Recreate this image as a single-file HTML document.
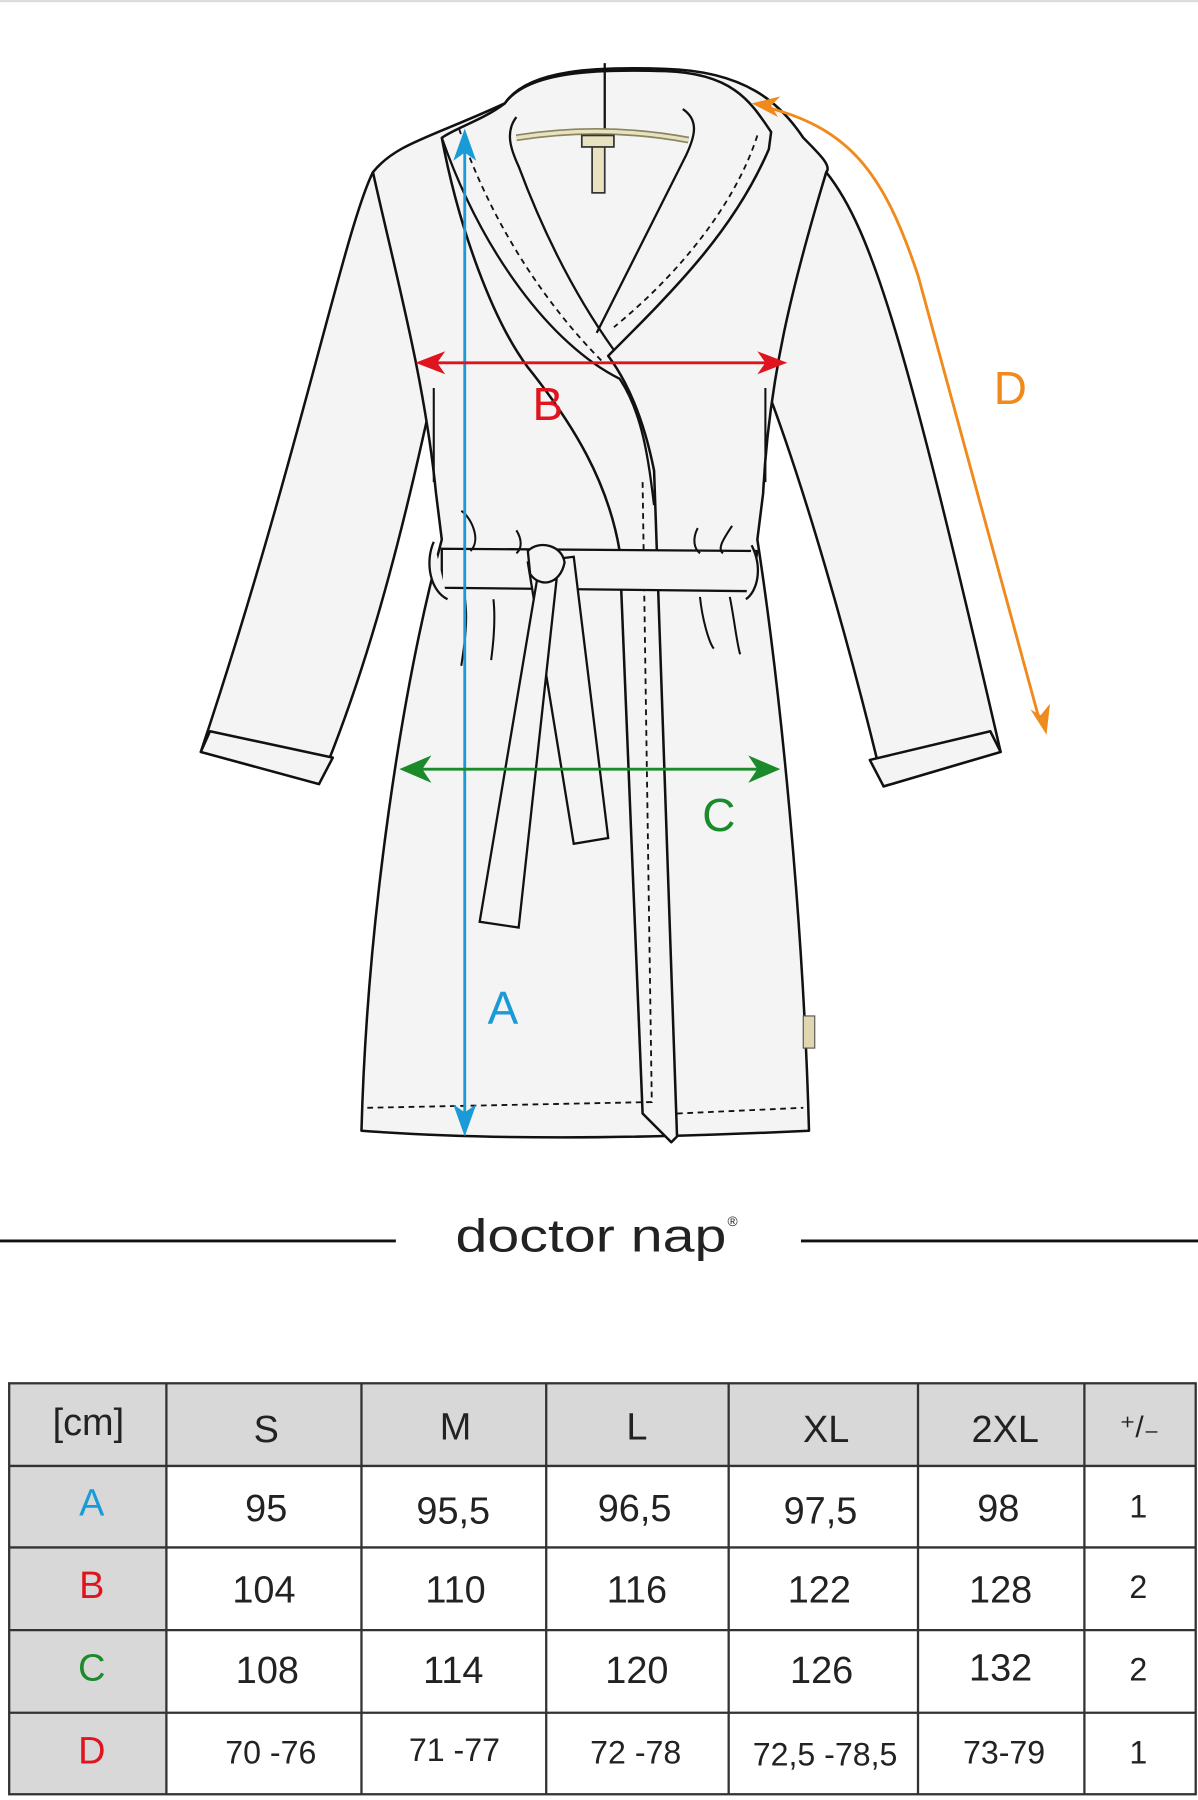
<!DOCTYPE html>
<html><head><meta charset="utf-8"><style>
html,body{margin:0;padding:0;background:#fff;}
svg{display:block}
text{font-family:"Liberation Sans",sans-serif;}
</style></head><body>
<svg width="1198" height="1800" viewBox="0 0 1044 1568" preserveAspectRatio="none" xmlns="http://www.w3.org/2000/svg">
<rect width="1044" height="1568" fill="#fff"/>
<line x1="0" y1="1" x2="1044" y2="1" stroke="#ddd" stroke-width="2"/>
<g fill="#f4f4f4" stroke="#111" stroke-width="2.2" stroke-linejoin="round">
<path d="M325,150 C300,200 260,400 175,655 L278,683 C330,560 360,420 380,330 Z"/>
<path d="M720,150 C760,200 790,300 872,655 L770,685 C740,560 700,420 665,330 Z"/>
<path d="M175,655 L183,637 L290,660 L278,683 Z"/>
<path d="M872,655 L863,637 L758,662 L770,685 Z"/>
<path d="M325,150 C345,125 375,120 440,90 C460,60 520,58 580,60 C650,62 680,90 700,120 C715,135 725,145 720,150 C690,250 670,330 665,430 L660,470 C680,600 700,800 705,985 C600,990 450,995 315,985 C320,800 350,600 385,470 L380,430 C370,330 345,240 325,150 Z"/>
<path d="M385,120 C400,110 420,105 440,90 C460,62 520,60 580,62 C640,64 655,90 672,115 L670,130 C640,200 590,250 530,310 C545,330 560,360 570,410 L590,990 L585,995 L560,970 L540,480 C530,420 500,370 460,320 C430,280 400,200 385,120 Z"/>
</g>
<g fill="none" stroke="#111" stroke-width="2">
<path d="M450,102 C440,115 445,130 452,145 C480,220 510,270 535,305"/>
<path d="M595,95 C610,105 605,120 598,135 C580,170 550,230 520,290"/>
<path d="M527,55 L527,120"/>
<path d="M385,120 C420,220 480,300 540,330 C560,360 565,400 570,440"/>
</g>
<g fill="none" stroke="#111" stroke-width="1.6" stroke-dasharray="5,4">
<path d="M400,112 C430,200 480,270 525,315"/>
<path d="M660,118 C640,180 590,240 535,285"/>
<path d="M560,420 L568,960 L320,965"/>
<path d="M590,970 L700,965"/>
</g>
<path d="M450,120 Q525,108 600,122" stroke="#8a8660" stroke-width="6" fill="none"/>
<path d="M450,120 Q525,108 600,122" stroke="#e8e2c0" stroke-width="3" fill="none"/>
<rect x="516" y="125" width="11" height="43" fill="#e8e2c0" stroke="#333" stroke-width="1.5"/>
<rect x="507" y="118" width="28" height="10" fill="#e8e2c0" stroke="#333" stroke-width="1.5"/>
<g fill="#f4f4f4" stroke="#111" stroke-width="2">
<path d="M385,478 L660,480 L655,515 L385,512 Z"/>
<path d="M460,490 L500,485 L530,730 L500,735 Z"/>
<path d="M468,505 L485,505 L452,808 L418,803 Z"/>
<path d="M460,480 C470,470 490,475 492,490 C488,510 470,512 462,500 Z"/>
<path d="M378,472 C370,490 375,515 390,522"/>
<path d="M655,475 C665,495 660,515 650,522"/>
</g>
<g fill="none" stroke="#111" stroke-width="1.8">
<path d="M402,445 C410,450 420,470 410,480"/><path d="M450,462 C455,470 455,478 450,482"/>
<path d="M608,460 C603,470 605,478 610,482"/><path d="M638,458 C630,470 625,478 630,482"/>
<path d="M405,520 C408,540 405,560 402,580"/><path d="M430,522 C432,540 430,560 428,575"/>
<path d="M610,520 C612,540 618,560 622,565"/><path d="M636,520 C640,540 642,560 645,570"/>
<path d="M378,338 L378,420"/><path d="M667,338 L667,420"/>
</g>
<rect x="700" y="885" width="10" height="28" fill="#e0d6b0" stroke="#555" stroke-width="1"/>
<line x1="405" y1="125" x2="405" y2="978" stroke="#1a9ad6" stroke-width="2.5"/>
<path d="M405,112 L395,140 L405,133 L415,140 Z" fill="#1a9ad6"/>
<path d="M405,990 L395,962 L405,969 L415,962 Z" fill="#1a9ad6"/>
<line x1="372" y1="316" x2="676" y2="316" stroke="#e0141e" stroke-width="2.5"/>
<path d="M362,316 L388,306 L381,316 L388,326 Z" fill="#e0141e"/>
<path d="M686,316 L660,306 L667,316 L660,326 Z" fill="#e0141e"/>
<line x1="358" y1="670" x2="670" y2="670" stroke="#1a8a2a" stroke-width="2.5"/>
<path d="M348,670 L376,658 L368,670 L376,682 Z" fill="#1a8a2a"/>
<path d="M680,670 L652,658 L660,670 L652,682 Z" fill="#1a8a2a"/>
<path d="M662,92 C740,110 770,150 800,240 L906,628" fill="none" stroke="#f08a1c" stroke-width="2.5"/>
<path d="M655,90 L680,84 L672,92 L678,102 Z" fill="#f08a1c"/>
<path d="M912,640 L898,618 L907,623 L915,613 Z" fill="#f08a1c"/>
<g font-size="40">
<text x="425" y="892" fill="#1a9ad6">A</text>
<text x="464" y="366" fill="#e0141e">B</text>
<text x="612" y="724" fill="#1a8a2a">C</text>
<text x="866" y="352" fill="#f08a1c">D</text>
</g>
<line x1="0" y1="1081" x2="345" y2="1081" stroke="#111" stroke-width="2.5"/>
<line x1="698" y1="1081" x2="1044" y2="1081" stroke="#111" stroke-width="2.5"/>
<text x="397" y="1090" font-size="40" textLength="236" lengthAdjust="spacingAndGlyphs" fill="#222">doctor nap</text>
<text x="634" y="1068" font-size="12" fill="#222">®</text>
<rect x="8" y="1205" width="1034" height="72" fill="#d8d8d8"/>
<rect x="8" y="1205" width="137" height="358" fill="#d8d8d8"/>
<g stroke="#333" stroke-width="2" fill="none">
<rect x="8" y="1205" width="1034" height="358"/>
<line x1="8" y1="1277" x2="1042" y2="1277"/><line x1="8" y1="1348" x2="1042" y2="1348"/>
<line x1="8" y1="1420" x2="1042" y2="1420"/><line x1="8" y1="1492" x2="1042" y2="1492"/>
<line x1="145" y1="1205" x2="145" y2="1563"/><line x1="315" y1="1205" x2="315" y2="1563"/>
<line x1="476" y1="1205" x2="476" y2="1563"/><line x1="635" y1="1205" x2="635" y2="1563"/>
<line x1="800" y1="1205" x2="800" y2="1563"/><line x1="945" y1="1205" x2="945" y2="1563"/>
</g>
<g font-size="33" text-anchor="middle" fill="#222">
<text x="77" y="1250">[cm]</text>
<text x="232" y="1256">S</text><text x="397" y="1254">M</text><text x="555" y="1254">L</text>
<text x="720" y="1256">XL</text><text x="876" y="1256">2XL</text>
<text x="993" y="1252" font-size="26">⁺/₋</text>
<text x="80" y="1320" fill="#1a9ad6">A</text>
<text x="80" y="1392" fill="#e0141e">B</text>
<text x="80" y="1464" fill="#1a8a2a">C</text>
<text x="80" y="1536" fill="#e0141e">D</text>
<text x="232" y="1325">95</text><text x="395" y="1327">95,5</text><text x="553" y="1325">96,5</text><text x="715" y="1327">97,5</text><text x="870" y="1325">98</text><text x="992" y="1322" font-size="28">1</text>
<text x="230" y="1396">104</text><text x="397" y="1396">110</text><text x="555" y="1396">116</text><text x="714" y="1396">122</text><text x="872" y="1396">128</text><text x="992" y="1392" font-size="28">2</text>
<text x="233" y="1466">108</text><text x="395" y="1466">114</text><text x="555" y="1466">120</text><text x="716" y="1466">126</text><text x="872" y="1464">132</text><text x="992" y="1464" font-size="28">2</text>
<g font-size="28"><text x="236" y="1536">70 -76</text><text x="396" y="1534">71 -77</text><text x="554" y="1536">72 -78</text><text x="719" y="1538">72,5 -78,5</text><text x="875" y="1536">73-79</text><text x="992" y="1536">1</text></g>
</g>
</svg>
</body></html>
